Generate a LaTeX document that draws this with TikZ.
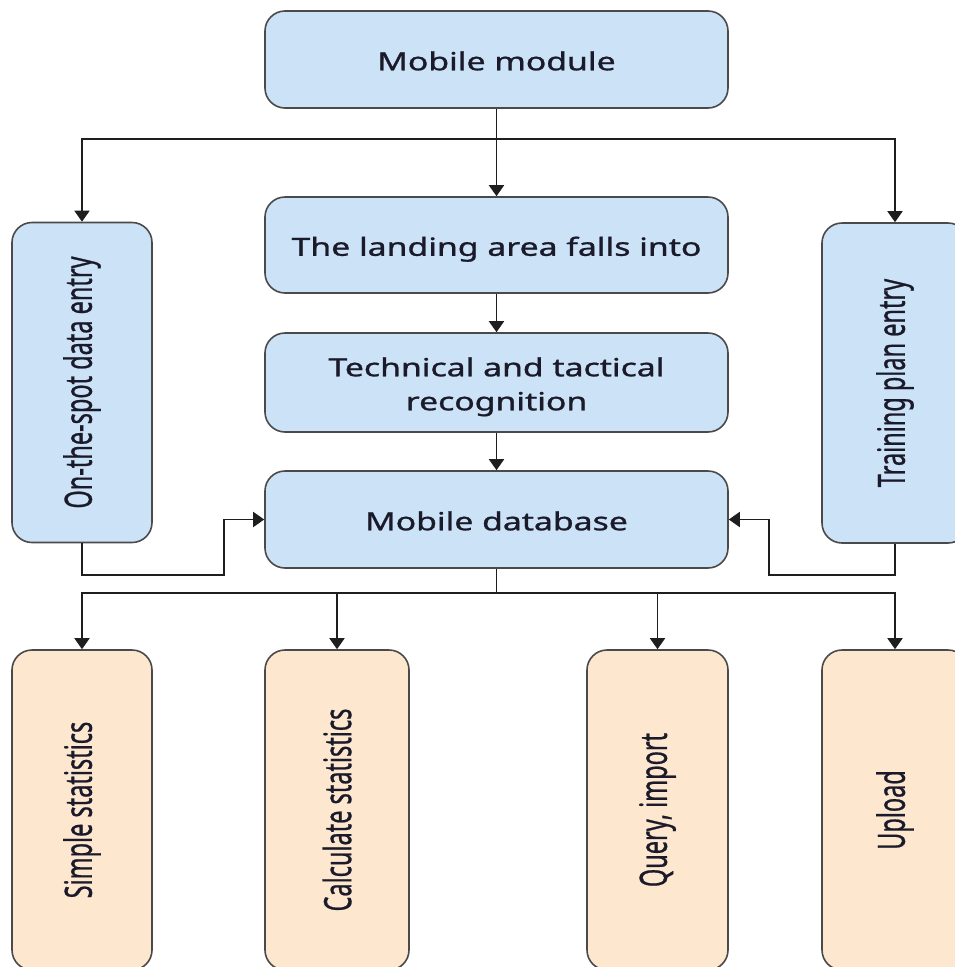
\documentclass[tikz,border=0pt]{standalone}
\usepackage{fontspec}
\setmainfont{Noto Sans}
\newfontfamily\lblfont{Noto Sans}[FakeBold=0.9]
\usetikzlibrary{arrows.meta}

\definecolor{boxblue}{HTML}{CCE2F6}
\definecolor{boxorange}{HTML}{FDE7CF}
\definecolor{boxline}{HTML}{4A4A4A}
\definecolor{wire}{HTML}{1E1E1E}
\definecolor{ink}{HTML}{1A1A2A}

% horizontal and vertical label helpers (text is widened horizontally)
\newcommand{\hlabel}[1]{\raisebox{-4pt}[\height][\depth]{\scalebox{1.35}[1]{\lblfont\fontsize{25}{34}\selectfont\begin{tabular}{@{}c@{}}#1\end{tabular}}}}
\newcommand{\vlabel}[1]{\scalebox{1.6}[1]{\rotatebox{90}{\lblfont\fontsize{23.5}{28}\selectfont #1}}}

\tikzset{
  box/.style={draw=boxline, line width=1.6pt, rounded corners=20pt,
    inner sep=0pt, text=ink, anchor=center},
  bluebox/.style={box, fill=boxblue},
  orangebox/.style={box, fill=boxorange},
  wide/.style={bluebox, minimum width=463pt},
  arr/.style={draw=wire, line width=1.8pt,
    -{Triangle[length=11pt,width=15pt]}},
  ln/.style={draw=wire, line width=1.8pt}
}

\begin{document}
\begin{tikzpicture}[x=1pt,y=-1pt]
  \clip (0,0) rectangle (955,967);
  \fill[white] (0,0) rectangle (955,967);

  % main column
  \node[wide, minimum height=97pt] (mm)   at (496.5,59.5)  {\hlabel{Mobile module}};
  \node[wide, minimum height=96pt] (land) at (496.5,245)   {\hlabel{The landing area falls into}};
  \node[wide, minimum height=99pt] (tech) at (496.5,382.5) {\hlabel{Technical and tactical\\recognition}};
  \node[wide, minimum height=97pt] (db)   at (496.5,519.5) {\hlabel{Mobile database}};

  % side entries
  \node[bluebox, minimum width=140pt, minimum height=320pt] (ons)   at (82,382.5) {\vlabel{On-the-spot data entry}};
  \node[bluebox, minimum width=146pt, minimum height=320pt] (train) at (895,383)  {\vlabel{Training plan entry}};

  % output functions
  \node[orangebox, minimum width=140pt, minimum height=320pt] (simple) at (82,810)    {\vlabel{Simple statistics}};
  \node[orangebox, minimum width=144pt, minimum height=320pt] (calc)   at (337,810)   {\vlabel{Calculate statistics}};
  \node[orangebox, minimum width=141pt, minimum height=320pt] (query)  at (657.5,810) {\vlabel{Query, import}};
  \node[orangebox, minimum width=146pt, minimum height=320pt] (upload) at (895,810)   {\vlabel{Upload}};

  % routing points
  \coordinate (topbus) at (496.5,139);
  \coordinate (botbus) at (496.5,593);
  \coordinate (lbend)  at (224,575);
  \coordinate (rbend)  at (769,575);

  % top fan-out
  \draw[arr] (mm.south) -- (land.north);
  \draw[arr] (topbus) -| (ons.north);
  \draw[arr] (topbus) -| (train.north);

  % main chain
  \draw[arr] (land.south) -- (tech.north);
  \draw[arr] (tech.south) -- (db.north);

  % side entries feeding the database
  \draw[arr] (ons.south) |- (lbend) |- (db.west);
  \draw[arr] (train.south) |- (rbend) |- (db.east);

  % bottom fan-out
  \draw[ln]  (db.south) -- (botbus);
  \draw[arr] (botbus) -| (simple.north);
  \draw[arr] (botbus) -| (calc.north);
  \draw[arr] (botbus) -| (query.north);
  \draw[arr] (botbus) -| (upload.north);
\end{tikzpicture}
\end{document}
